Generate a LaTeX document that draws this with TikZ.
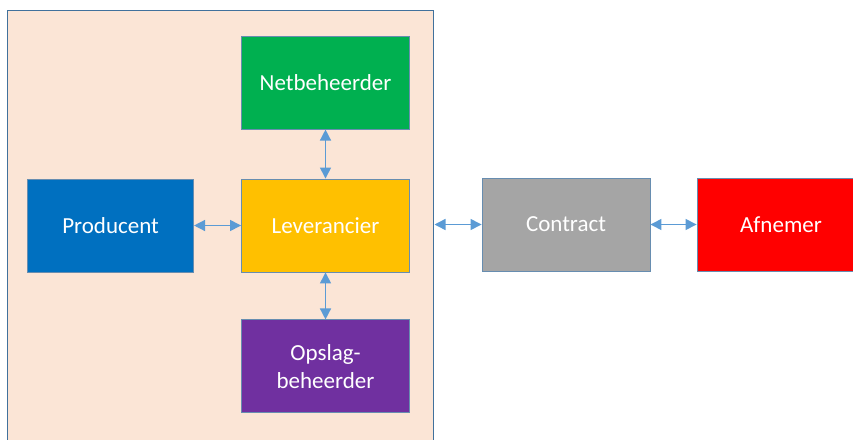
\documentclass[tikz,border=0pt]{standalone}
\usepackage{fontspec}
\setmainfont{Carlito}
\usetikzlibrary{positioning,arrows.meta}
\definecolor{kaderfill}{HTML}{FBE5D6}
\definecolor{kaderrand}{HTML}{41719C}
\definecolor{pijlblauw}{HTML}{5B9BD5}
\definecolor{groen}{HTML}{00B050}
\definecolor{blauw}{HTML}{0070C0}
\definecolor{geel}{HTML}{FFC000}
\definecolor{paars}{HTML}{7030A0}
\definecolor{grijs}{HTML}{A5A5A5}
\definecolor{rood}{HTML}{FF0000}
\tikzset{
  blok/.style={draw=kaderrand!80, line width=0.9pt, minimum width=168pt, minimum height=93pt,
    text=white, align=center, inner sep=0pt, font=\fontsize{23}{28}\selectfont},
  pijl/.style={draw=pijlblauw, line width=1.4pt, {Triangle[length=11pt,width=11pt]}-{Triangle[length=11pt,width=11pt]}}
}
\begin{document}
\begin{tikzpicture}[x=1pt,y=1pt]
            \useasboundingbox (0,0) rectangle (853,-439);
            \clip (0,0) rectangle (853,-439);
            \node [draw=kaderrand, fill=kaderfill, line width=1pt, minimum width=426pt, minimum height=440pt, inner sep=0pt] (kader) at (220,-230) {};
            \node [blok, fill=geel] (leverancier) at (325.5,-225.5) {Leverancier};
            \node [blok, fill=groen, above=49pt of leverancier] (netbeheerder) {Netbeheerder};
            \node [blok, fill=paars, below=47pt of leverancier] (opslag) {Opslag-\\beheerder};
            \node [blok, fill=blauw, minimum width=166pt, left=47pt of leverancier] (producent) {Producent};
            \node [blok, fill=grijs] (contract) at (566,-224.5) {Contract};
            \node [blok, fill=rood] (afnemer) at (781,-224.5) {Afnemer};
            \draw [pijl] (producent) -- (leverancier);
            \draw [pijl] (leverancier) -- (netbeheerder);
            \draw [pijl] (leverancier) -- (opslag);
            \draw [pijl] (contract.west -| kader.east) ++(1,0) -- (contract.west);
            \draw [pijl] (contract) -- (afnemer);
        \end{tikzpicture}
\end{document}
